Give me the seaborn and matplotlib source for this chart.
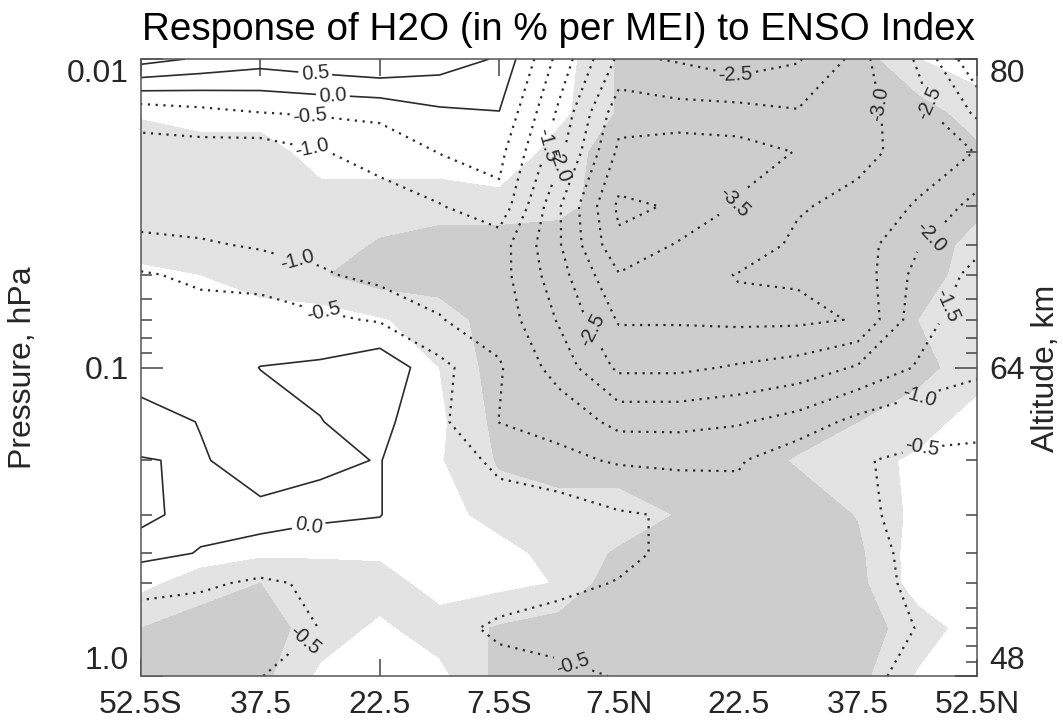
import numpy as np
import matplotlib
matplotlib.use("Agg")
import matplotlib.pyplot as plt
import seaborn as sns

# ---------------- data ----------------
latitudes = [-52.5, -45, -37.5, -30, -22.5, -15, -7.5, 0, 7.5, 15, 22.5, 30, 37.5, 45, 52.5]
pressure_hpa = [0.01, 0.015, 0.02, 0.03, 0.04, 0.05, 0.07, 0.1, 0.15, 0.2, 0.3, 0.4, 0.5, 0.7, 1.0]

# H2O response (% per MEI), one list per pressure level (top -> bottom), west -> east
resp_p0100 = [1.2, 0.93, 0.72, 0.86, 0.98, 0.75, 0.45, -1.17, -2.6, -2.45, -2.2, -2.45, -3.15, -2.45, -1.05]
resp_p0150 = [-0.85, -0.68, -0.52, -0.45, -0.39, -0.1, -0.02, -1.6, -3.32, -3.2, -3.2, -3.05, -3.2, -2.7, -1.92]
resp_p0200 = [-1.15, -1.2, -1.27, -1.03, -0.82, -0.48, -0.35, -1.85, -3.6, -3.8, -3.7, -3.48, -3.15, -2.8, -2.48]
resp_p0300 = [-1.2, -1.25, -1.3, -1.3, -1.21, -1.03, -0.65, -2.45, -4.1, -3.95, -3.45, -3.05, -2.85, -2.45, -1.82]
resp_p0400 = [-0.9, -0.95, -1.05, -1.15, -1.3, -1.2, -1.27, -2.45, -3.9, -3.45, -3.3, -2.9, -2.75, -2.05, -1.6]
resp_p0500 = [-0.45, -0.6, -0.75, -0.94, -1.15, -1.15, -1.3, -2.3, -3.47, -3.2, -2.98, -2.95, -2.8, -1.85, -1.37]
resp_p0700 = [-0.3, -0.3, -0.18, -0.4, -0.55, -0.98, -1.2, -2.05, -3.05, -3.05, -3.1, -3.1, -2.97, -1.7, -1.2]
resp_p1000 = [-0.12, -0.15, 0.005, 0.08, 0.37, -0.35, -0.95, -1.72, -2.6, -2.6, -2.45, -2.3, -1.95, -1.46, -1.05]
resp_p1500 = [0.1, -0.01, -0.1, -0.01, 0.14, -0.4, -1.01, -1.15, -1.65, -1.65, -1.55, -1.3, -0.85, -0.61, -0.82]
resp_p2000 = [-0.01, 0.02, -0.1, -0.05, 0.01, -0.25, -0.6, -0.89, -1.05, -1.1, -1.05, -0.67, -0.52, -0.45, -0.22]
resp_p3000 = [-0.1, 0.15, 0.05, 0.09, 0.01, -0.25, -0.3, -0.22, -0.45, -0.55, -0.8, -0.7, -0.6, -0.35, -0.2]
resp_p4000 = [0.19, -0.03, -0.05, -0.3, -0.15, -0.3, -0.3, -0.3, -0.4, -0.6, -0.8, -0.7, -0.65, -0.4, -0.2]
resp_p5000 = [-0.44, -0.4, -0.6, -0.4, -0.2, -0.35, -0.35, -0.4, -0.52, -0.75, -0.8, -0.75, -0.7, -0.4, -0.2]
resp_p7000 = [-0.6, -0.9, -0.8, -0.49, -0.3, -0.4, -0.55, -0.66, -0.75, -0.8, -0.8, -0.75, -0.7, -0.49, -0.25]
resp_p10000 = [-0.8, -1.0, -0.51, -0.3, -0.3, -0.35, -0.4, -0.41, -0.52, -0.7, -0.75, -0.7, -0.6, -0.4, -0.25]

# significance index (0 = not significant, 1 = lower level, 2 = higher level)
sig_p0100 = [0, 0, 0, 0, 0, 0, 0, 0, 1.6, 2, 2, 2, 2, 0.52, 0]
sig_p0150 = [0.4, 0, 0, 0, 0, 0, 0, 0.2, 1.6, 2, 2, 2, 2, 2, 1.0]
sig_p0200 = [1, 1, 1, 0, 0, 0, -0.5, 1.0, 2, 2, 2, 2, 2, 2, 1.7]
sig_p0300 = [1, 1, 1, 1, 1, 1, 1, 1.2, 2, 2, 2, 2, 2, 2, 1.7]
sig_p0400 = [1, 1, 1, 1, 1.6, 2, 2, 2, 2, 2, 2, 2, 2, 2, 1.2]
sig_p0500 = [0.2, 0.5, 1, 1.4, 2, 2, 2, 2, 2, 2, 2, 2, 2, 2, 1.0]
sig_p0700 = [0, 0, 0, 0, 0.4, 1, 2, 2, 2, 2, 2, 2, 2, 1.5, 1.0]
sig_p1000 = [0, 0, 0, 0, 0, 0.5, 2, 2, 2, 2, 2, 2, 2, 1.8, 1.0]
sig_p1500 = [0, 0, 0, 0, 0, 0.3, 1.8, 2, 2, 2, 2, 2, 1.5, 1.0, 0]
sig_p2000 = [0, 0, 0, 0, 0, 0.4, 1.6, 2, 2, 2, 2, 1.4, 0.9, 0.3, 0]
sig_p3000 = [0, 0, 0, 0, 0, 0, 1, 1, 1, 1.55, 2, 2, 1.45, 0.2, 0]
sig_p4000 = [0, 0, 0.3, 0.3, 0.3, 0, 0, 1, 1.6, 2, 2, 2, 1.7, 0, 0]
sig_p5000 = [0.2, 1, 1.5, 1.3, 1, 0, 0.2, 0.55, 2.2, 2, 2, 2, 1.8, 0, 0]
sig_p7000 = [1.5, 2, 2, 1, 0.3, 1, 1.6, 2, 2, 2, 2, 2, 2, 1.0, 0]
sig_p10000 = [2, 2, 1.8, 0.3, 0, 0.2, 1.8, 2, 2, 2, 2, 2, 1.8, 0.4, 0]

lat_ticks = [-52.5, -37.5, -22.5, -7.5, 7.5, 22.5, 37.5, 52.5]
lat_labels = ["52.5S", "37.5", "22.5", "7.5S", "7.5N", "22.5", "37.5", "52.5N"]
p_major = [0.01, 0.1, 1.0]
p_major_labels = ["0.01", "0.1", "1.0"]
alt_labels = ["80", "64", "48"]
p_minor = [0.02, 0.03, 0.04, 0.05, 0.06, 0.07, 0.08, 0.09,
           0.2, 0.3, 0.4, 0.5, 0.6, 0.7, 0.8, 0.9]

neg_levels = [-4.0, -3.5, -3.0, -2.5, -2.0, -1.5, -1.0, -0.5]
pos_levels = [0.0, 0.5, 1.0]

# label anchor points (lat, hPa)
neg_label_pts = [(-31.3, 0.0154), (-31.0, 0.0195), (-32.9, 0.0449), (-29.6, 0.066),
                 (-32.2, 0.748), (-0.75, 0.0193), (0.4, 0.0224), (21.9, 0.012),
                 (39.4, 0.0141), (45.0, 0.0143), (21.5, 0.0286), (4.3, 0.0755),
                 (46.2, 0.0366), (49.5, 0.0641), (45.3, 0.125), (45.6, 0.182),
                 (1.8, 0.908)]
pos_label_pts = [(-30.6, 0.011), (-28.4, 0.0131), (-31.5, 0.319)]

# ---------------- build ----------------
resp = np.array([resp_p0100, resp_p0150, resp_p0200, resp_p0300, resp_p0400, resp_p0500,
                 resp_p0700, resp_p1000, resp_p1500, resp_p2000, resp_p3000, resp_p4000,
                 resp_p5000, resp_p7000, resp_p10000])
sig = np.array([sig_p0100, sig_p0150, sig_p0200, sig_p0300, sig_p0400, sig_p0500,
                sig_p0700, sig_p1000, sig_p1500, sig_p2000, sig_p3000, sig_p4000,
                sig_p5000, sig_p7000, sig_p10000])
lat = np.array(latitudes)
logp = np.log10(np.array(pressure_hpa))

sns.set_theme(style="white")
plt.rcParams["font.family"] = ["Liberation Sans", "DejaVu Sans"]

W, H = 1063, 727
fig = plt.figure(figsize=(W / 100, H / 100), dpi=100)
ax = fig.add_axes([141 / W, (H - 676) / H, 836 / W, 617 / H])

ax.contourf(lat, logp, sig, levels=[0.5, 1.5, 5], colors=["#e3e3e3", "#cdcdcd"])
cs_neg = ax.contour(lat, logp, resp, levels=neg_levels, colors="#2b2b2b",
                    linewidths=1.6, linestyles=[(0, (1, 2.5))])
cs_pos = ax.contour(lat, logp, resp, levels=pos_levels, colors="#2b2b2b",
                    linewidths=1.2, linestyles="solid")
ax.clabel(cs_neg, fmt="%.1f", fontsize=14.5, inline=True, inline_spacing=3,
          manual=[(a, np.log10(b)) for a, b in neg_label_pts])
ax.clabel(cs_pos, fmt="%.1f", fontsize=14.5, inline=True, inline_spacing=3,
          manual=[(a, np.log10(b)) for a, b in pos_label_pts])

ax.set_xlim(-52.5, 52.5)
ax.set_ylim(0, -2)
ax.set_xticks(lat_ticks)
ax.set_xticklabels(lat_labels)
ax.set_yticks(np.log10(p_major))
ax.set_yticklabels(p_major_labels)
ax.set_yticks(np.log10(p_minor), minor=True)
ax.tick_params(axis="x", which="major", direction="in", length=12, width=1.1,
               top=True, bottom=True, pad=10, labelsize=23, color="#444444")
ax.tick_params(axis="y", which="major", direction="in", length=16, width=1.1,
               left=True, right=False, pad=9, labelsize=23, color="#444444")
ax.tick_params(axis="y", which="minor", direction="in", length=8, width=1.1,
               left=True, right=False, color="#444444")
for sp in ax.spines.values():
    sp.set_color("#555555")
    sp.set_linewidth(1.1)

ax2 = ax.twinx()
ax2.set_ylim(ax.get_ylim())
ax2.set_yticks(np.log10(p_major))
ax2.set_yticklabels(alt_labels)
ax2.set_yticks(np.log10(p_minor), minor=True)
ax2.tick_params(axis="y", which="major", direction="in", length=16, width=1.1,
                pad=9, labelsize=23, color="#444444")
ax2.tick_params(axis="y", which="minor", direction="in", length=8, width=1.1,
                color="#444444")
ax2.grid(False)
for sp in ax2.spines.values():
    sp.set_visible(False)

for axis in (ax, ax2):
    labs = axis.get_yticklabels()
    labs[0].set_va("top")
    labs[-1].set_va("bottom")

fig.text(559 / W, 1 - 40 / H, "Response of H2O (in % per MEI) to ENSO Index",
         ha="center", va="baseline", fontsize=27.8, color="black")
fig.text(23 / W, 1 - 368 / H, "Pressure, hPa", rotation=90, ha="center",
         va="center", fontsize=23)
fig.text(1046 / W, 1 - 368 / H, "Altitude, km", rotation=90, ha="center",
         va="center", fontsize=23)

fig.savefig("out.png", dpi=100, facecolor="white")
